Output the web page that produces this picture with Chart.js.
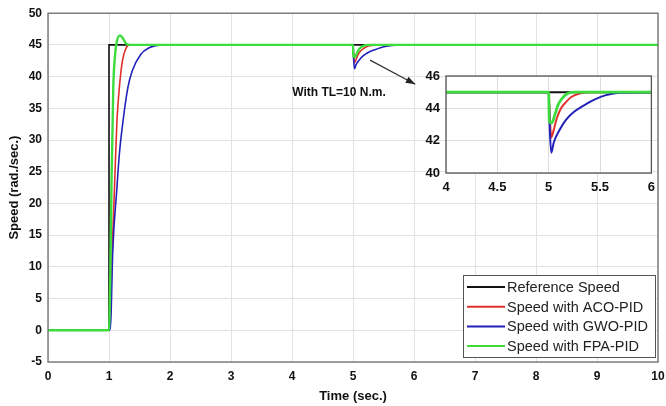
<!DOCTYPE html>
<html>
<head>
<meta charset="utf-8">
<script src="https://cdn.jsdelivr.net/npm/chart.js@4"></script>
<style>
  html, body { margin: 0; padding: 0; background: #fff; }
  #wrap { position: relative; width: 666px; height: 406px; }
  #mainChart { position: absolute; left: 0; top: 0; }
  #insetChart { position: absolute; left: 400px; top: 55px; }
</style>
</head>
<body>
<div id="wrap">
  <canvas id="mainChart" width="666" height="406"></canvas>
  <canvas id="insetChart" width="262" height="150"></canvas>
</div>
<script>
// ========== DATA ==========
const seriesLabels = ['Reference Speed', 'Speed with ACO-PID', 'Speed with GWO-PID', 'Speed with FPA-PID'];
const seriesColors = ['#111111', '#e0302c', '#2222bb', '#3ddc3d'];

const tRef = [0, 1, 1, 10];
const vRef = [0, 0, 45, 45];

const tAco = [0, 1, 1.02, 1.05, 1.09, 1.13, 1.17, 1.22, 1.28, 1.33, 1.45, 5, 5.01, 5.025, 5.05, 5.08, 5.12, 5.17, 5.22, 5.3, 5.4, 10];
const vAco = [0, 0, 2, 12, 22.5, 33, 38.3, 42.5, 44.5, 45, 45, 45, 43.6, 42.2, 42.7, 43.4, 44.0, 44.4, 44.7, 44.92, 45, 45];

const tGwo = [0, 1, 1.03, 1.06, 1.13, 1.17, 1.23, 1.31, 1.38, 1.52, 1.65, 1.9, 2.1, 5, 5.01, 5.025, 5.05, 5.1, 5.17, 5.25, 5.36, 5.45, 5.55, 5.7, 10];
const vGwo = [0, 0, 1.6, 12.1, 22.5, 27.8, 33, 38.3, 40.9, 43.5, 44.5, 45, 45, 45, 42.8, 41.25, 41.9, 42.6, 43.3, 43.8, 44.25, 44.55, 44.8, 44.97, 45];

const tFpa = [0, 1, 1.02, 1.04, 1.07, 1.1, 1.13, 1.18, 1.23, 1.28, 1.35, 5, 5.005, 5.03, 5.06, 5.09, 5.13, 5.18, 5.25, 10];
const vFpa = [0, 0, 8, 22.5, 38.3, 43.5, 45.6, 46.5, 46, 45.2, 45, 45, 43.2, 43.1, 43.6, 44.2, 44.6, 44.9, 45, 45];

const xTicksMain = [0, 1, 2, 3, 4, 5, 6, 7, 8, 9, 10];
const yTicksMain = [-5, 0, 5, 10, 15, 20, 25, 30, 35, 40, 45, 50];
const xTicksInset = [4, 4.5, 5, 5.5, 6];
const yTicksInset = [40, 42, 44, 46];

const annotationText = 'With TL=10 N.m.';

// ========== HELPERS ==========
const toPoints = (ts, vs) => ts.map((t, i) => ({ x: t, y: vs[i] }));

function buildDatasets(width) {
  const pts = [toPoints(tRef, vRef), toPoints(tAco, vAco), toPoints(tGwo, vGwo), toPoints(tFpa, vFpa)];
  return pts.map((p, i) => ({
    label: seriesLabels[i],
    data: p,
    borderColor: seriesColors[i],
    borderWidth: i === 3 ? width + 0.8 : width,
    pointRadius: 0,
    fill: false,
    tension: 0,
    cubicInterpolationMode: i === 0 ? 'default' : 'monotone',
    order: 4 - i
  }));
}

const tickFont = { family: 'Liberation Sans, Arial', size: 12, weight: 'bold' };
const insetFont = { family: 'Liberation Sans, Arial', size: 13, weight: 'bold' };

// white inside the axes (inset only) and the grey axes box
const boxPlugin = {
  id: 'axesBox',
  beforeDraw(chart) {
    if (!chart.options.plugins.axesBox.fill) return;
    const a = chart.chartArea, c = chart.ctx;
    c.save();
    c.fillStyle = '#ffffff';
    c.fillRect(a.left, a.top, a.right - a.left, a.bottom - a.top);
    c.restore();
  },
  afterDraw(chart) {
    const a = chart.chartArea, c = chart.ctx;
    c.save();
    c.strokeStyle = chart.options.plugins.axesBox.color;
    c.lineWidth = 1.3;
    c.strokeRect(a.left, a.top, a.right - a.left, a.bottom - a.top);
    c.restore();
  }
};

// legend box + annotation for the main axes
const extrasPlugin = {
  id: 'mainExtras',
  afterDraw(chart) {
    const c = chart.ctx, xs = chart.scales.x, ys = chart.scales.y;
    c.save();
    // annotation text
    c.font = 'bold 12px Liberation Sans, Arial';
    c.fillStyle = '#111';
    c.textAlign = 'center';
    c.textBaseline = 'middle';
    c.fillText(annotationText, xs.getPixelForValue(4.77), ys.getPixelForValue(37.4));
    // arrow
    const x1 = xs.getPixelForValue(5.28), y1 = ys.getPixelForValue(42.6);
    const x2 = xs.getPixelForValue(6.02), y2 = ys.getPixelForValue(38.8);
    c.strokeStyle = '#333';
    c.lineWidth = 1.2;
    c.beginPath(); c.moveTo(x1, y1); c.lineTo(x2, y2); c.stroke();
    const ang = Math.atan2(y2 - y1, x2 - x1);
    c.fillStyle = '#222';
    c.beginPath();
    c.moveTo(x2, y2);
    c.lineTo(x2 - 10 * Math.cos(ang - 0.35), y2 - 10 * Math.sin(ang - 0.35));
    c.lineTo(x2 - 10 * Math.cos(ang + 0.35), y2 - 10 * Math.sin(ang + 0.35));
    c.closePath(); c.fill();

    // legend
    const lx = 463, ly = 275, lw = 192, lh = 82;
    c.fillStyle = '#fff';
    c.fillRect(lx, ly, lw, lh);
    c.strokeStyle = '#555';
    c.lineWidth = 1;
    c.strokeRect(lx + 0.5, ly + 0.5, lw, lh);
    c.font = '14.5px Liberation Sans, Arial';
    c.textAlign = 'left';
    chart.data.datasets.forEach((ds, i) => {
      const yy = ly + 12 + i * 19.7;
      c.strokeStyle = ds.borderColor;
      c.lineWidth = 2;
      c.beginPath(); c.moveTo(lx + 4, yy); c.lineTo(lx + 42, yy); c.stroke();
      c.fillStyle = '#222';
      c.fillText(ds.label, lx + 44, yy + 1);
    });
    c.restore();
  }
};

// ========== MAIN CHART ==========
function initMainChart() {
  const ctx = document.getElementById('mainChart');
  new Chart(ctx.getContext('2d'), {
    type: 'line',
    data: { datasets: buildDatasets(1.6) },
    options: {
      responsive: false,
      animation: false,
      layout: { padding: { left: 0, right: 0, top: 11, bottom: 0 } },
      plugins: {
        legend: { display: false },
        tooltip: { enabled: false },
        axesBox: { color: '#6e6e6e', fill: false }
      },
      scales: {
        x: {
          type: 'linear', min: 0, max: 10,
          afterBuildTicks: s => { s.ticks = xTicksMain.map(v => ({ value: v })); },
          afterFit: s => { s.height = 44; s.paddingRight = 8; s.paddingLeft = 0; },
          grid: { color: '#e2e2e2', drawTicks: false },
          border: { display: false },
          ticks: { color: '#111', font: tickFont, padding: 7, maxRotation: 0 },
          title: { display: true, text: 'Time (sec.)', color: '#111', font: { family: 'Liberation Sans, Arial', size: 13, weight: 'bold' }, padding: { top: 0, bottom: 2 } }
        },
        y: {
          type: 'linear', min: -5, max: 50,
          afterBuildTicks: s => { s.ticks = yTicksMain.map(v => ({ value: v })); },
          afterFit: s => { s.width = 48; },
          grid: { color: '#e2e2e2', drawTicks: false },
          border: { display: false },
          ticks: { color: '#111', font: tickFont, padding: 6 },
          title: { display: true, text: 'Speed (rad./sec.)', color: '#111', font: { family: 'Liberation Sans, Arial', size: 13, weight: 'bold' }, padding: { top: 7, bottom: 0 } }
        }
      }
    },
    plugins: [boxPlugin, extrasPlugin]
  });
}

// ========== INSET CHART ==========
function initInsetChart() {
  const ctx = document.getElementById('insetChart');
  new Chart(ctx.getContext('2d'), {
    type: 'line',
    data: { datasets: buildDatasets(2) },
    options: {
      responsive: false,
      animation: false,
      layout: { padding: { left: 0, right: 10, top: 21, bottom: 0 } },
      plugins: {
        legend: { display: false },
        tooltip: { enabled: false },
        axesBox: { color: '#555', fill: true }
      },
      scales: {
        x: {
          type: 'linear', min: 4, max: 6,
          afterBuildTicks: s => { s.ticks = xTicksInset.map(v => ({ value: v })); },
          afterFit: s => { s.height = 32; },
          grid: { color: '#dddddd', drawTicks: false },
          border: { display: false },
          ticks: { color: '#111', font: insetFont, padding: 7, maxRotation: 0, callback: v => String(v) }
        },
        y: {
          type: 'linear', min: 40, max: 46,
          afterBuildTicks: s => { s.ticks = yTicksInset.map(v => ({ value: v })); },
          afterFit: s => { s.width = 46; },
          grid: { color: '#dddddd', drawTicks: false },
          border: { display: false },
          ticks: { color: '#111', font: insetFont, padding: 6, callback: v => String(v) }
        }
      }
    },
    plugins: [boxPlugin]
  });
}

initMainChart();
initInsetChart();
</script>
</body>
</html>
